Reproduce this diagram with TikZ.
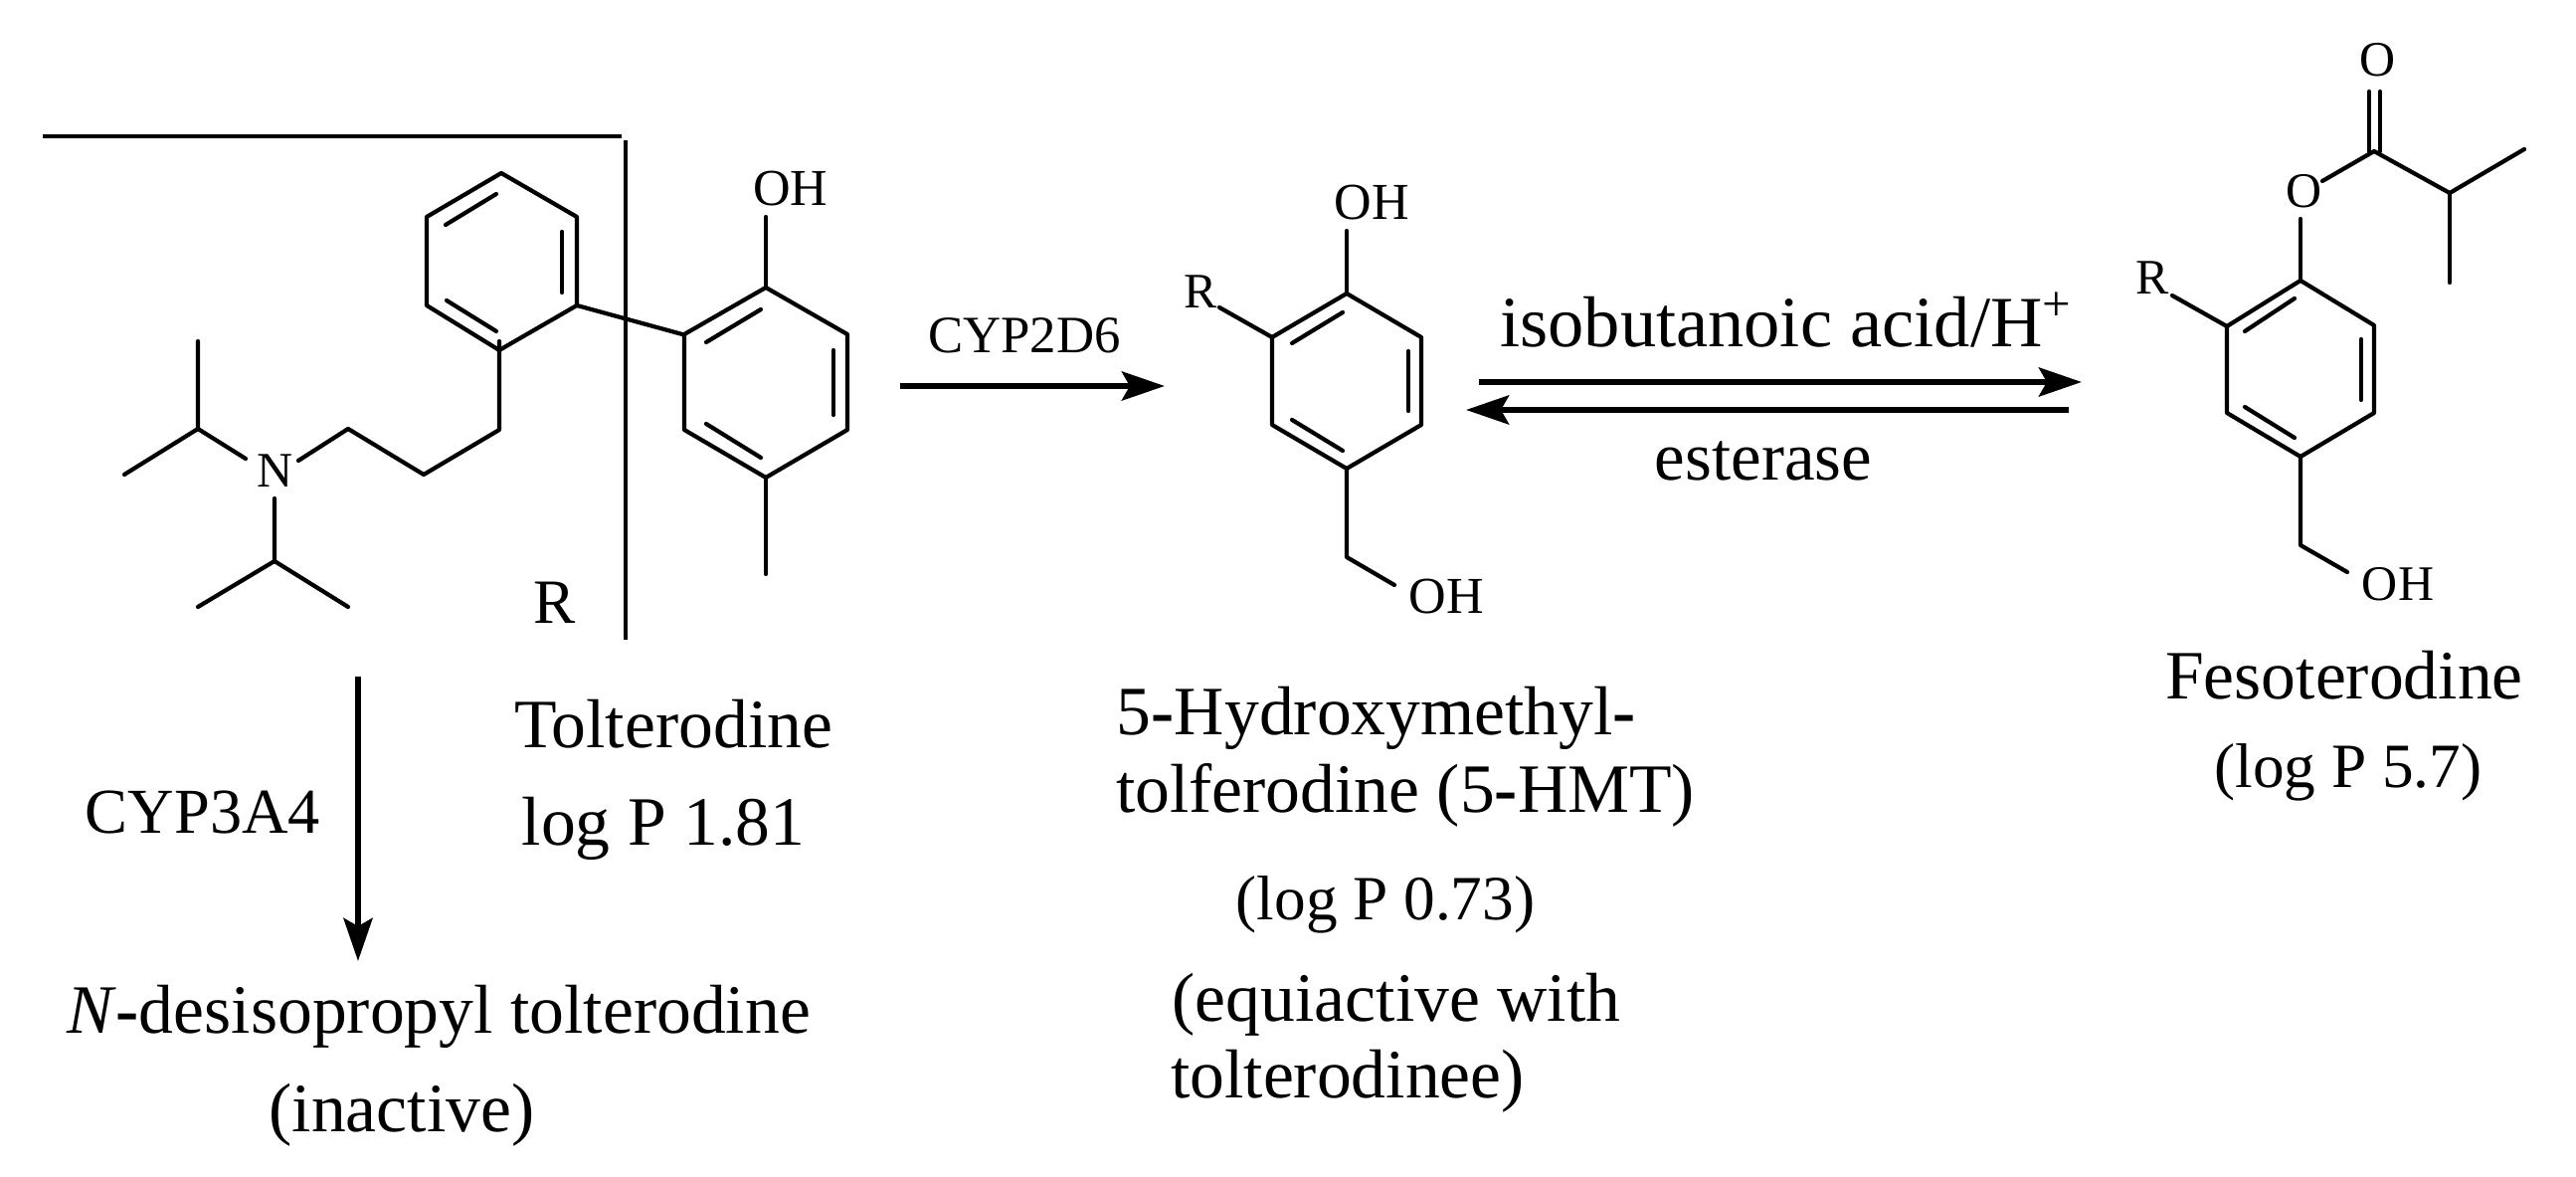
\documentclass[tikz,border=0pt]{standalone}
\usepackage{fontspec}
\setmainfont{Liberation Serif}
\usetikzlibrary{arrows.meta}
\newcommand{\bh}{\textbf{-}}
\tikzset{
    bond/.style={line width=1.2pt, line cap=round, line join=round},
    frameline/.style={line width=1.3pt},
    rxn/.style={line width=1.7pt, -{Stealth[length=4.3mm, width=2.9mm, inset=0.8mm]}},
    atom/.style={inner sep=0pt, anchor=base, font=\fontsize{14.8}{14.8}\selectfont},
    atomsm/.style={inner sep=0pt, anchor=base, font=\fontsize{14.2}{14.2}\selectfont},
    reagent/.style={inner sep=0pt, anchor=base, font=\fontsize{15}{15}\selectfont},
    caption/.style={inner sep=0pt, anchor=base, font=\fontsize{19.8}{19.8}\selectfont},
    logval/.style={inner sep=0pt, anchor=base, font=\fontsize{18}{18}\selectfont}
}
\begin{document}
\begin{tikzpicture}[x=0.01cm, y=-0.01cm]
    \useasboundingbox (0,0) rectangle (2590,1183);

    % tolterodine
    \draw[frameline] (43,137) -- (625,137);
    \draw[frameline] (629,141) -- (629,643);
    \draw[bond] (504,174) -- (429,218) -- (429,307) -- (502,352) -- (580,307) -- (580,218) -- cycle;
    \draw[bond] (565,233) -- (565,294);
    \draw[bond] (448,226) -- (499,195);
    \draw[bond] (449,302) -- (499,333);
    \draw[bond] (502,343) -- (502,432) -- (426,477) -- (350,431) -- (300,463);
    \draw[bond] (247,461) -- (199,431) -- (199,343);
    \draw[bond] (199,431) -- (125,477);
    \draw[bond] (276,501) -- (276,564) -- (199,610);
    \draw[bond] (276,564) -- (350,610);
    \draw[bond] (580,307) -- (686,336);
    \draw[bond] (770,289) -- (852,336) -- (852,432) -- (770,480) -- (688,432) -- (688,336) -- cycle;
    \draw[bond] (838,352) -- (838,417);
    \draw[bond] (710,344) -- (765,311);
    \draw[bond] (710,426) -- (765,460);
    \draw[bond] (770,218) -- (770,289);
    \draw[bond] (770,480) -- (770,577);
    \node[atom] (tolOH) at (795,207) {OH};
    \node[atomsm] (tolN) at (277,490) {N};
    \node[atom, font=\fontsize{18}{18}\selectfont] (tolR) at (558,627) {R};

    % 5-HMT
    \draw[bond] (1354,295) -- (1429,339) -- (1429,427) -- (1354,471) -- (1279,427) -- (1279,339) -- cycle;
    \draw[bond] (1416,353) -- (1416,413);
    \draw[bond] (1299,345) -- (1350,314);
    \draw[bond] (1299,422) -- (1350,453);
    \draw[bond] (1226,309) -- (1279,339);
    \draw[bond] (1354,232) -- (1354,295);
    \draw[bond] (1354,471) -- (1354,560) -- (1402,588);
    \node[atom] (hmtOHa) at (1379,221) {OH};
    \node[atom] (hmtOHb) at (1454,617) {OH};
    \node[atomsm] (hmtR) at (1207,310) {R};

    % fesoterodine
    \draw[bond] (2313,282) -- (2387,327) -- (2387,415) -- (2313,459) -- (2239,415) -- (2239,328) -- cycle;
    \draw[bond] (2374,341) -- (2374,402);
    \draw[bond] (2257,333) -- (2307,300);
    \draw[bond] (2257,409) -- (2307,440);
    \draw[bond] (2184,297) -- (2239,328);
    \draw[bond] (2313,282) -- (2313,220);
    \draw[bond] (2335,182) -- (2387,152) -- (2463,194) -- (2538,150);
    \draw[bond] (2463,194) -- (2463,284);
    \draw[bond] (2382,152) -- (2382,92);
    \draw[bond] (2393,152) -- (2393,92);
    \draw[bond] (2313,459) -- (2313,548) -- (2360,575);
    \node[atomsm] (fesOa) at (2391,77) {O};
    \node[atomsm] (fesOb) at (2317,209) {O};
    \node[atomsm] (fesOH) at (2411,604) {OH};
    \node[atomsm] (fesR) at (2164,296) {R};

    % arrows
    \coordinate (cypS) at (905,388);
    \coordinate (cypE) at (1171,388);
    \coordinate (estS) at (1487,384);
    \coordinate (estE) at (2093,384);
    \coordinate (hydS) at (2080,412);
    \coordinate (hydE) at (1474,412);
    \coordinate (ndeS) at (360,680);
    \coordinate (ndeE) at (360,966);
    \draw[rxn] (cypS) -- (cypE);
    \draw[rxn] (estS) -- (estE);
    \draw[rxn] (hydS) -- (hydE);
    \draw[rxn] (ndeS) -- (ndeE);

    % labels
    \node[reagent] (cyp2d6) at (1030,355) {CYP2D6};
    \node[reagent, font=\fontsize{18.3}{18.3}\selectfont] (cyp3a4) at (204,838) {CYP3A4};
    \node[caption, font=\fontsize{20.6}{20.6}\selectfont] (ester) at (1796,349) {isobutanoic acid/H\textsuperscript{+}};
    \node[caption, font=\fontsize{19.6}{19.6}\selectfont] (hydro) at (1773,483) {esterase};
    \node[caption] (tolName) at (677,752) {Tolterodine};
    \node[caption] (tolLog) at (667,850) {log P 1.81};
    \node[caption] (fesName) at (2357,703) {Fesoterodine};
    \node[logval] (fesLog) at (2361,792) {(log P 5.7)};
    \node[caption] (hmtNameA) at (1384,739) {5\bh Hydroxymethyl\bh};
    \node[caption] (hmtNameB) at (1413,817) {tolferodine (5\bh HMT)};
    \node[logval] (hmtLog) at (1393,925) {(log P 0.73)};
    \node[caption] (hmtActA) at (1404,1027) {(equiactive with};
    \node[caption] (hmtActB) at (1355,1104) {tolterodinee)};
    \node[caption] (ndeName) at (441,1039) {\textit{N}\bh desisopropyl tolterodine};
    \node[caption] (ndeAct) at (404,1138) {(inactive)};
\end{tikzpicture}
\end{document}
